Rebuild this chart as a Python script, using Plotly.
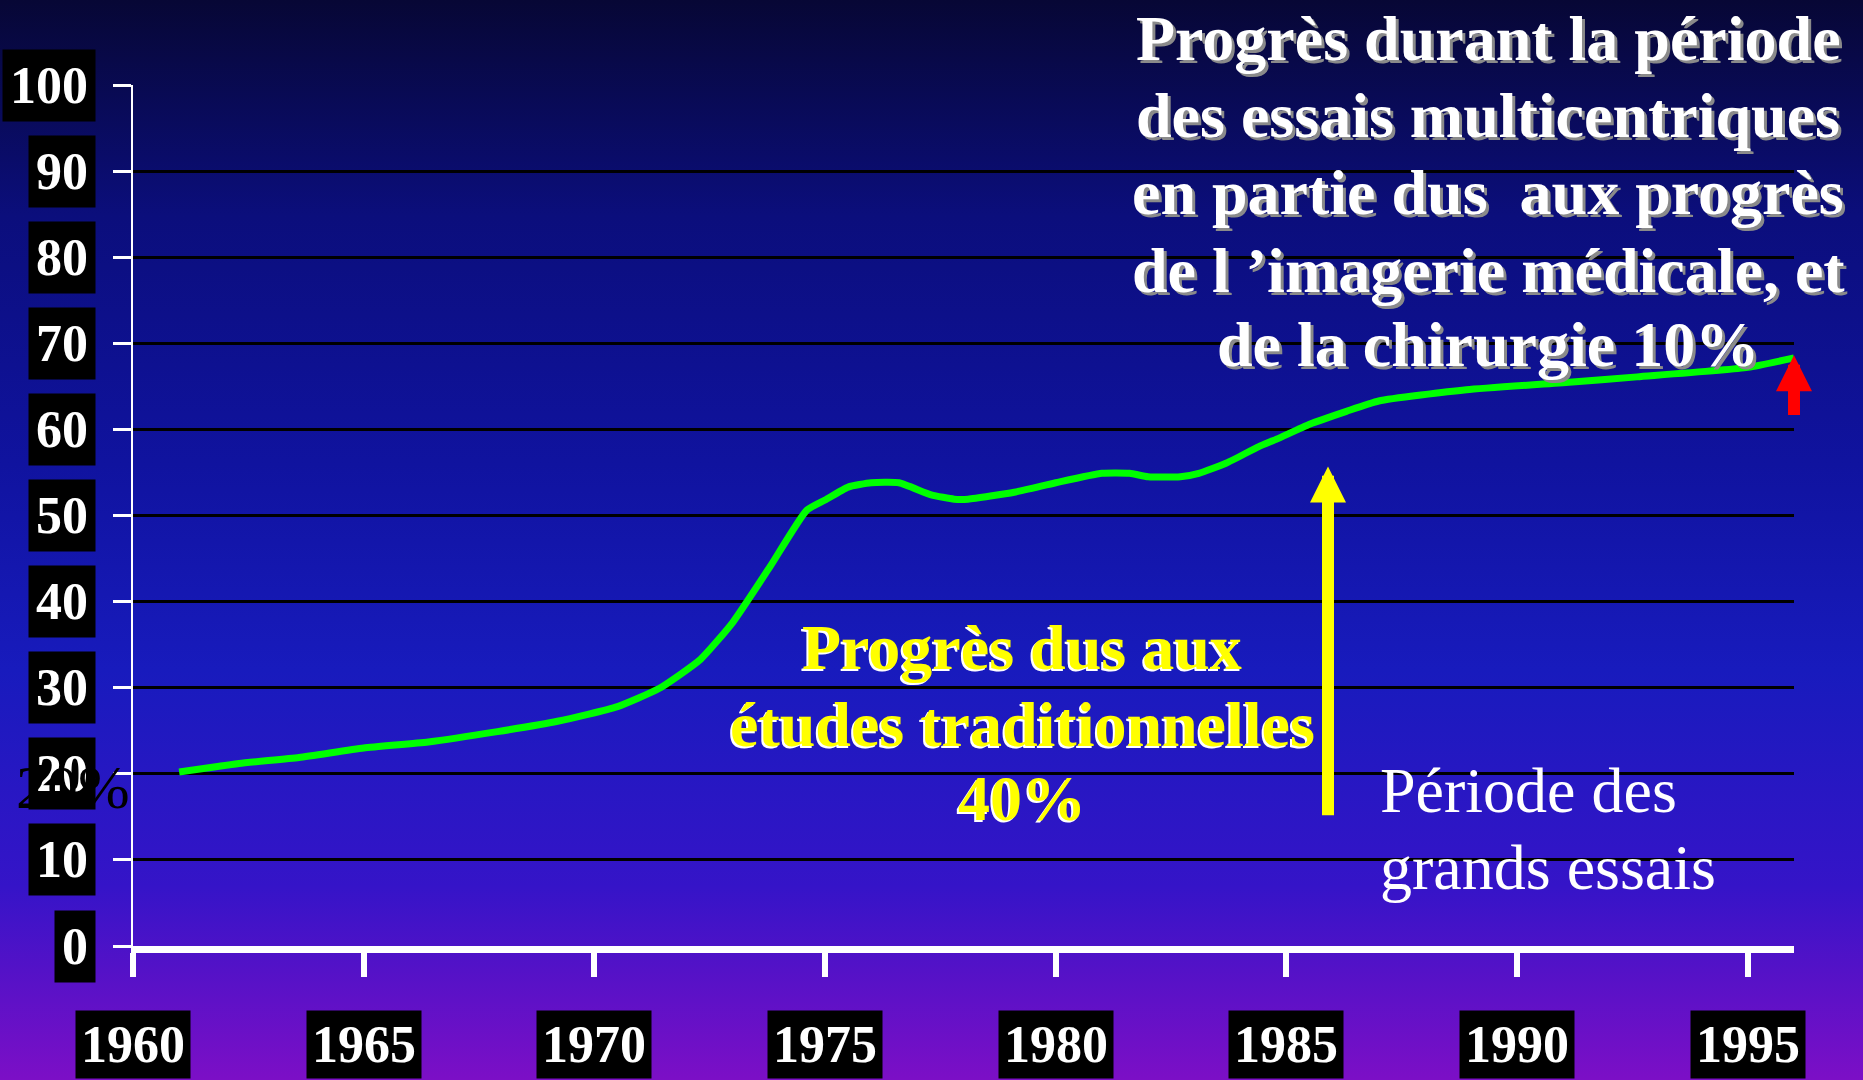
import base64
import plotly.graph_objects as go

# courbe de survie (%)
years = [1961.0, 1962.3, 1963.6, 1965.0, 1966.4, 1967.9, 1969.2, 1970.5, 1971.4, 1972.3,
         1973.0, 1973.8, 1974.6, 1975.0, 1975.5, 1976.0, 1976.6, 1977.3, 1977.8, 1978.1,
         1979.1, 1980.0, 1981.0, 1981.6, 1982.0, 1982.7, 1983.1, 1983.7, 1984.4, 1984.8,
         1985.5, 1986.3, 1987.0, 1988.9, 1991.2, 1992.6, 1995.0, 1996.0]
survie = [20.2, 21.2, 21.9, 23.0, 23.7, 24.9, 26.1, 27.8, 29.9, 33.3,
          37.6, 44.0, 50.6, 51.8, 53.3, 53.8, 53.8, 52.4, 51.9, 51.9,
          52.7, 53.8, 54.9, 54.9, 54.5, 54.5, 54.9, 56.1, 58.0, 58.9,
          60.6, 62.1, 63.3, 64.6, 65.5, 66.1, 67.2, 68.3]

y_ticks = [0, 10, 20, 30, 40, 50, 60, 70, 80, 90, 100]
y_labels = [str(v) for v in y_ticks]
x_ticks = [1960, 1965, 1970, 1975, 1980, 1985, 1990, 1995]
x_labels = [str(v) for v in x_ticks]

# flèches (x, y pointe, y départ)
fleche_jaune = (1985.9, 55.7, 15.0)
fleche_rouge = (1996.0, 68.6, 61.5)

titre_lignes = ["Progrès durant la période", "des essais multicentriques",
                "en partie dus  aux progrès", "de l ’imagerie médicale, et",
                "de la chirurgie 10%"]
jaune_lignes = ["Progrès dus aux", "études traditionnelles", "40%"]
blanc_lignes = ["Période des", "grands essais"]

# mise en page (pixels)
W, H = 1863, 1080
L, R, T, B = 133, 69, 85, 134
PW, PH = W - L - R, H - T - B
FONT = "Liberation Serif"

# centres verticaux des lignes de texte (pixels)
titre_y = [38, 115, 192, 270, 345]
jaune_y = [647, 724, 798]
blanc_y = [790, 867]


def px_x(p):
    return (p - L) / PW


def px_y(p):
    return (T + PH - p) / PH


# fond dégradé bleu nuit -> violet
stops = [(0.0, "#070735"), (0.2, "#0b0e7c"), (0.43, "#10139f"), (0.62, "#181bbd"),
         (0.82, "#3514c8"), (1.0, "#7c0fc6")]
stop_svg = "".join(f'<stop offset="{o}" stop-color="{c}"/>' for o, c in stops)
svg = ('<svg xmlns="http://www.w3.org/2000/svg" width="10" height="100" preserveAspectRatio="none">'
       f'<defs><linearGradient id="g" x1="0" y1="0" x2="0" y2="1">{stop_svg}</linearGradient></defs>'
       '<rect width="10" height="100" fill="url(#g)"/></svg>')
bg_src = "data:image/svg+xml;base64," + base64.b64encode(svg.encode()).decode()

fig = go.Figure()
fig.add_trace(go.Scatter(
    x=years, y=survie, mode="lines",
    line=dict(color="#00ff00", width=7, shape="spline", smoothing=0.5),
    showlegend=False, hoverinfo="skip"
))

annotations = []

# étiquettes des axes dans des boîtes noires
for v, lab in zip(y_ticks, y_labels):
    annotations.append(dict(
        text=lab, xref="paper", yref="y", x=px_x(96), y=v,
        xanchor="right", yanchor="middle", showarrow=False,
        bgcolor="black", borderpad=7,
        font=dict(family=FONT, size=52, color="white", weight="bold")
    ))
for v, lab in zip(x_ticks, x_labels):
    annotations.append(dict(
        text=lab, xref="x", yref="paper", x=v, y=px_y(1044),
        xanchor="center", yanchor="middle", showarrow=False,
        bgcolor="black", borderpad=5,
        font=dict(family=FONT, size=52, color="white", weight="bold")
    ))

annotations.append(dict(
    text="20%", xref="paper", yref="paper", x=px_x(73), y=px_y(787),
    xanchor="center", yanchor="middle", showarrow=False,
    font=dict(family=FONT, size=62, color="black")
))

for txt, py in zip(titre_lignes, titre_y):
    annotations.append(dict(
        text=txt, xref="paper", yref="paper", x=px_x(1488), y=px_y(py),
        xanchor="center", yanchor="middle", showarrow=False,
        font=dict(family=FONT, size=64, color="white", weight="bold",
                  shadow="3px 3px 0px #8a8a8a")
    ))

for txt, py in zip(jaune_lignes, jaune_y):
    annotations.append(dict(
        text=txt, xref="paper", yref="paper", x=px_x(1022), y=px_y(py),
        xanchor="center", yanchor="middle", showarrow=False,
        font=dict(family=FONT, size=64, color="#ffff00", weight="bold",
                  shadow="-2px 2px 0px #ffffff")
    ))

for txt, py in zip(blanc_lignes, blanc_y):
    annotations.append(dict(
        text=txt, xref="paper", yref="paper", x=px_x(1378), y=px_y(py),
        xanchor="left", yanchor="middle", showarrow=False,
        font=dict(family=FONT, size=64, color="white")
    ))

for (ax_x, tip, tail), col in [(fleche_jaune, "#ffff00"), (fleche_rouge, "#ff0000")]:
    annotations.append(dict(
        text="", x=ax_x, y=tip, ax=ax_x, ay=tail, xref="x", yref="y",
        axref="x", ayref="y", showarrow=True, arrowhead=2,
        arrowwidth=12, arrowsize=0.6, arrowcolor=col
    ))

fig.update_layout(
    width=W, height=H,
    margin=dict(l=L, r=R, t=T, b=B),
    paper_bgcolor="#12139a",
    plot_bgcolor="rgba(0,0,0,0)",
    images=[dict(
        source=bg_src, xref="paper", yref="paper",
        x=px_x(0), y=px_y(0), sizex=W / PW, sizey=H / PH,
        xanchor="left", yanchor="top", sizing="stretch", layer="below"
    )],
    xaxis=dict(
        range=[1960, 1996], tickvals=x_ticks, showticklabels=False,
        ticks="outside", ticklen=24, tickwidth=6, tickcolor="white",
        showgrid=False, zeroline=False,
        showline=True, linecolor="white", linewidth=7
    ),
    yaxis=dict(
        range=[0, 100], tickvals=y_ticks, showticklabels=False,
        ticks="outside", ticklen=18, tickwidth=3, tickcolor="white",
        showgrid=True, gridcolor="black", gridwidth=3, zeroline=False,
        showline=True, linecolor="white", linewidth=2
    ),
    annotations=annotations,
    showlegend=False,
)

fig.write_html("out.html", config={"displayModeBar": False},
               post_script="document.body.style.margin='0';")
